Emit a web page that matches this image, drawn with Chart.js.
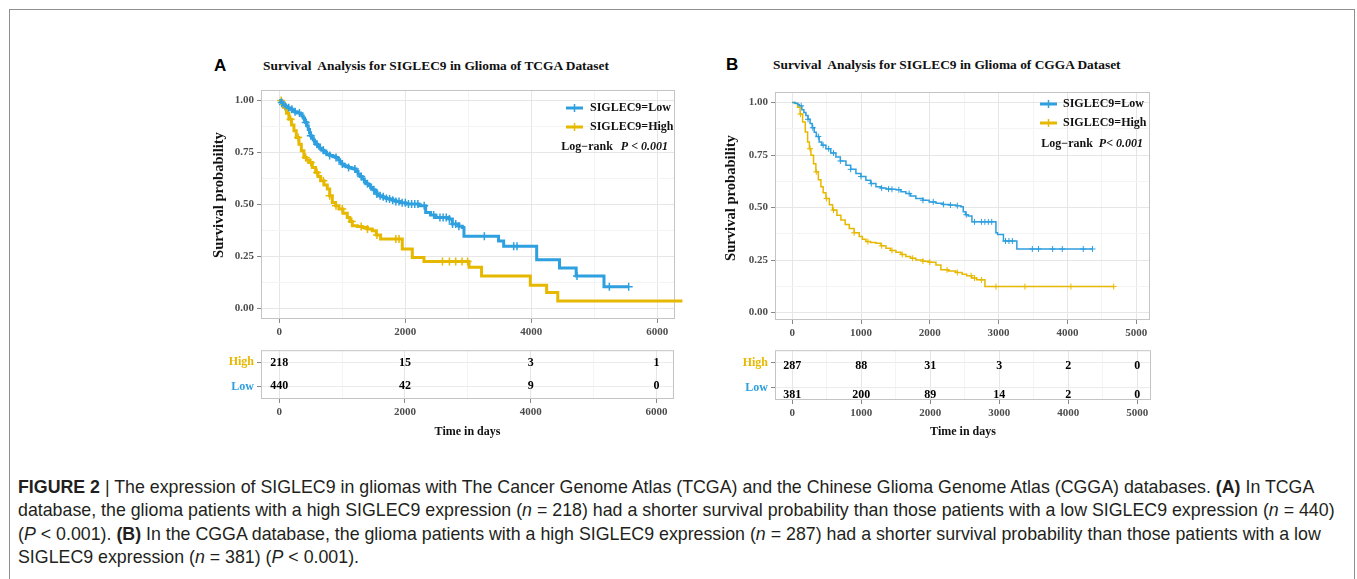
<!DOCTYPE html>
<html>
<head>
<meta charset="utf-8">
<script src="https://cdn.jsdelivr.net/npm/chart.js@4.4.1/dist/chart.umd.min.js"></script>
<style>
  html, body { margin: 0; padding: 0; background: #fff; }
  body { width: 1357px; height: 579px; position: relative; overflow: hidden; font-family: "Liberation Serif", serif; }
  .frame { position: absolute; left: 9px; top: 9px; width: 1344px; height: 640px; border: 1px solid #8f8f8f; }
  .box { position: absolute; }
  .letter { position: absolute; font-family: "Liberation Sans", Arial, sans-serif; font-weight: bold; font-size: 17px; line-height: 20px; }
  .title { position: absolute; font-weight: bold; font-size: 13.4px; line-height: 16px; white-space: pre; color: #111; }
  .ytitle { position: absolute; width: 200px; margin-left: -100px; text-align: center; font-weight: bold; font-size: 14.6px; line-height: 16px; color: #111; transform: rotate(-90deg); white-space: nowrap; }
  .caption { position: absolute; left: 18px; top: 476px; font-family: "Liberation Sans", Arial, sans-serif; font-size: 17.8px; line-height: 23.3px; color: #231f20; white-space: nowrap; }
</style>
</head>
<body>
<div class="frame"></div>

<div class="letter" style="left:214px; top:56px;">A</div>
<div class="title" style="left:263px; top:58px;">Survival  Analysis for SIGLEC9 in Glioma of TCGA Dataset</div>
<div class="letter" style="left:726px; top:55px;">B</div>
<div class="title" style="left:773px; top:57px;">Survival  Analysis for SIGLEC9 in Glioma of CGGA Dataset</div>

<div class="box" style="left:200px; top:78px;"><canvas id="kmA" width="490" height="265"></canvas></div>
<div class="box" style="left:200px; top:340px;"><canvas id="riskA" width="490" height="100"></canvas></div>
<div class="box" style="left:715px; top:80px;"><canvas id="kmB" width="450" height="265"></canvas></div>
<div class="box" style="left:715px; top:340px;"><canvas id="riskB" width="450" height="100"></canvas></div>

<div class="ytitle" style="left:218px; top:187px;">Survival probability</div>
<div class="ytitle" style="left:730px; top:190px;">Survival probability</div>

<div class="caption">
<b>FIGURE 2</b> | The expression of SIGLEC9 in gliomas with The Cancer Genome Atlas (TCGA) and the Chinese Glioma Genome Atlas (CGGA) databases. <b>(A)</b> In TCGA<br>
database, the glioma patients with a high SIGLEC9 expression (<i>n</i> = 218) had a shorter survival probability than those patients with a low SIGLEC9 expression (<i>n</i> = 440)<br>
(<i>P</i> &lt; 0.001). <b>(B)</b> In the CGGA database, the glioma patients with a high SIGLEC9 expression (<i>n</i> = 287) had a shorter survival probability than those patients with a low<br>
SIGLEC9 expression (<i>n</i> = 381) (<i>P</i> &lt; 0.001).
</div>

<script>
const BLUE = '#2E9FDF';
const GOLD = '#E7B800';
const seriesNames = ['SIGLEC9=Low', 'SIGLEC9=High'];
const riskRows = ['High', 'Low'];

// TCGA - step points of the KM curves (days, survival)
const tcgaLowTime = [0, 30, 60, 90, 120, 160, 206, 240, 280, 338, 360, 380, 400, 418, 440, 460, 480, 497, 520, 540, 560, 577, 610, 640, 675, 709, 750, 800, 850, 894, 930, 960, 990, 1026, 1060, 1100, 1140, 1185, 1220, 1250, 1285, 1317, 1350, 1380, 1415, 1450, 1485, 1520, 1550, 1582, 1620, 1660, 1700, 1741, 1800, 1850, 1920, 2005, 2217, 2323, 2400, 2481, 2693, 2746, 2850, 2905, 2931, 3480, 3561, 4085, 4447, 4712, 5153, 5545];
const tcgaLowSurv = [1, 0.99, 0.98, 0.972, 0.965, 0.958, 0.95, 0.945, 0.94, 0.934, 0.925, 0.915, 0.905, 0.894, 0.877, 0.86, 0.845, 0.83, 0.82, 0.81, 0.8, 0.79, 0.78, 0.77, 0.76, 0.75, 0.742, 0.735, 0.73, 0.726, 0.715, 0.705, 0.695, 0.686, 0.682, 0.678, 0.674, 0.67, 0.658, 0.645, 0.634, 0.622, 0.611, 0.6, 0.591, 0.582, 0.571, 0.56, 0.551, 0.542, 0.537, 0.532, 0.529, 0.526, 0.52, 0.515, 0.509, 0.502, 0.494, 0.462, 0.45, 0.438, 0.43, 0.406, 0.396, 0.39, 0.347, 0.325, 0.3, 0.235, 0.195, 0.157, 0.105, 0.105];
const tcgaHighTime = [0, 35, 74, 115, 153, 195, 233, 270, 312, 350, 391, 430, 471, 525, 577, 615, 656, 710, 762, 800, 841, 895, 947, 1010, 1079, 1120, 1159, 1240, 1317, 1400, 1476, 1540, 1608, 1952, 2111, 2296, 3011, 3210, 3984, 4243, 4420, 6397];
const tcgaHighSurv = [1, 0.985, 0.966, 0.938, 0.91, 0.882, 0.854, 0.822, 0.79, 0.758, 0.726, 0.714, 0.702, 0.678, 0.654, 0.634, 0.614, 0.594, 0.574, 0.542, 0.51, 0.494, 0.478, 0.458, 0.438, 0.418, 0.398, 0.394, 0.39, 0.382, 0.374, 0.354, 0.334, 0.286, 0.246, 0.226, 0.198, 0.157, 0.112, 0.077, 0.037, 0.037];
// censored times
const tcgaLowCens = [40, 60, 90, 150, 200, 250, 320, 420, 500, 600, 700, 800, 900, 1000, 1100, 1200, 1300, 1400, 1500, 1550, 1600, 1650, 1700, 1750, 1800, 1850, 1900, 1950, 2000, 2050, 2100, 2150, 2200, 2300, 2450, 2550, 2600, 2650, 2700, 2750, 2800, 2850, 3254, 3720, 3773, 4725, 5238, 5545];
const tcgaHighCens = [30, 100, 180, 300, 420, 500, 600, 700, 800, 900, 1000, 1150, 1300, 1400, 1550, 1850, 1900, 2590, 2700, 2800, 2900, 2989, 6397];

// CGGA
const cggaLowTime = [0, 40, 80, 102, 140, 170, 199, 230, 260, 290, 320, 350, 392, 430, 490, 560, 635, 700, 781, 850, 926, 1000, 1071, 1140, 1217, 1290, 1362, 1430, 1507, 1580, 1652, 1720, 1797, 1900, 1991, 2090, 2186, 2280, 2379, 2452, 2486, 2520, 2558, 2612, 2961, 2985, 3070, 3265, 4365];
const cggaLowSurv = [1, 0.997, 0.99, 0.984, 0.965, 0.952, 0.938, 0.92, 0.9, 0.88, 0.859, 0.838, 0.812, 0.797, 0.78, 0.76, 0.741, 0.722, 0.701, 0.682, 0.662, 0.648, 0.63, 0.614, 0.599, 0.593, 0.588, 0.587, 0.585, 0.575, 0.567, 0.555, 0.543, 0.535, 0.527, 0.52, 0.515, 0.512, 0.509, 0.504, 0.48, 0.466, 0.46, 0.432, 0.38, 0.372, 0.341, 0.303, 0.303];
const cggaHighTime = [0, 40, 78, 115, 151, 190, 224, 250, 272, 310, 344, 380, 417, 450, 490, 540, 587, 650, 708, 770, 829, 900, 974, 1020, 1071, 1140, 1217, 1290, 1362, 1430, 1507, 1580, 1652, 1720, 1797, 1900, 1991, 2089, 2161, 2270, 2379, 2470, 2535, 2610, 2680, 2801, 4672];
const cggaHighSurv = [1, 0.995, 0.978, 0.945, 0.907, 0.86, 0.812, 0.78, 0.749, 0.708, 0.67, 0.633, 0.599, 0.57, 0.543, 0.514, 0.488, 0.463, 0.441, 0.42, 0.401, 0.38, 0.362, 0.349, 0.338, 0.334, 0.33, 0.318, 0.306, 0.296, 0.287, 0.277, 0.267, 0.259, 0.251, 0.245, 0.24, 0.227, 0.204, 0.198, 0.191, 0.183, 0.176, 0.165, 0.156, 0.124, 0.124];
const cggaLowCens = [130, 230, 300, 380, 450, 530, 600, 700, 850, 1000, 1150, 1300, 1400, 1450, 1550, 1700, 1900, 2050, 2200, 2300, 2400, 2530, 2650, 2750, 2800, 2850, 2900, 3100, 3150, 3200, 3490, 3580, 3785, 3925, 4230, 4365];
const cggaHighCens = [120, 260, 350, 500, 600, 900, 1100, 1300, 1450, 1600, 1750, 1900, 2000, 2250, 2400, 2600, 2650, 2750, 2961, 3382, 4051, 4672];

// number at risk
const tcgaRiskTimes = [0, 2000, 4000, 6000];
const tcgaRiskHigh = [218, 15, 3, 1];
const tcgaRiskLow = [440, 42, 9, 0];
const cggaRiskTimes = [0, 1000, 2000, 3000, 4000, 5000];
const cggaRiskHigh = [287, 88, 31, 3, 2, 0];
const cggaRiskLow = [381, 200, 89, 14, 2, 0];

// ticks
const survTicks = [0, 0.25, 0.5, 0.75, 1];
const survMinor = [0.125, 0.375, 0.625, 0.875];
const tcgaTicks = [0, 2000, 4000, 6000];
const tcgaMinor = [1000, 3000, 5000];
const cggaTicks = [0, 1000, 2000, 3000, 4000, 5000];
const cggaMinor = [500, 1500, 2500, 3500, 4500];

const SERIF = "'Liberation Serif', 'Times New Roman', serif";
Chart.defaults.font.family = SERIF;

function survAt(times, surv, t) {
    let s = surv[0];
    for (let i = 0; i < times.length; i++) {
        if (times[i] <= t) s = surv[i];
    }
    return s;
}
const toPoints = (times, surv) => times.map((t, i) => ({ x: t, y: surv[i] }));
const toCens = (cens, times, surv) => cens.map(t => ({ x: t, y: survAt(times, surv, t) }));

// grey box round the panel, like ggplot
const panelFrame = {
    id: 'panelFrame',
    beforeDatasetsDraw(chart) {
        const { ctx, chartArea: a } = chart;
        ctx.save();
        ctx.strokeStyle = '#c4c4c4';
        ctx.lineWidth = 1;
        ctx.strokeRect(a.left + 0.5, a.top + 0.5, a.right - a.left - 1, a.bottom - a.top - 1);
        ctx.restore();
    }
};

const kmLegend = {
    id: 'kmLegend',
    afterDraw(chart, args, o) {
        if (!o || !o.items) return;
        const { ctx, chartArea: a } = chart;
        ctx.save();
        ctx.textBaseline = 'middle';
        ctx.font = 'bold 12px ' + SERIF;
        o.items.forEach((it, i) => {
            const y = a.top + o.rowY[i];
            const x0 = a.right + o.lineX[0];
            const x1 = a.right + o.lineX[1];
            ctx.strokeStyle = it.color;
            ctx.lineWidth = o.lineWidth;
            ctx.beginPath();
            ctx.moveTo(x0, y);
            ctx.lineTo(x1, y);
            ctx.stroke();
            const xm = (x0 + x1) / 2;
            ctx.lineWidth = o.markWidth;
            ctx.beginPath();
            ctx.moveTo(xm, y - o.markR);
            ctx.lineTo(xm, y + o.markR);
            ctx.stroke();
            ctx.fillStyle = '#111';
            ctx.textAlign = 'left';
            ctx.fillText(it.text, a.right + o.textX, y);
        });
        // log-rank line, right aligned
        const y = a.top + o.pY;
        const xr = a.right + o.pRight;
        ctx.textAlign = 'right';
        ctx.font = 'italic bold 12px ' + SERIF;
        ctx.fillText(o.pText, xr, y);
        const w = ctx.measureText(o.pText).width;
        ctx.font = 'bold 12px ' + SERIF;
        ctx.fillText(o.rankText, xr - w - o.gap, y);
        ctx.restore();
    }
};

function axisX(xmin, xmax, majors, minors, extra) {
    return Object.assign({
        type: 'linear',
        min: xmin,
        max: xmax,
        afterBuildTicks: s => { s.ticks = majors.concat(minors).sort((a, b) => a - b).map(v => ({ value: v })); },
        grid: {
            color: c => majors.includes(c.tick.value) ? '#e6e6e6' : '#f4f4f4',
            tickColor: c => majors.includes(c.tick.value) ? '#888' : 'rgba(0,0,0,0)',
            tickLength: 4,
            lineWidth: 1
        },
        border: { display: false },
        ticks: {
            autoSkip: false,
            maxRotation: 0,
            padding: 3,
            color: '#4d4d4d',
            font: { size: 11, weight: 'bold' },
            callback: v => majors.includes(v) ? String(v) : ''
        }
    }, extra || {});
}

function makeKM(id, cfg) {
    const ctx = document.getElementById(id).getContext('2d');
    const ds = (data, color, extra) => Object.assign({
        data: data,
        borderColor: color,
        backgroundColor: color,
        fill: false
    }, extra);
    return new Chart(ctx, {
        type: 'line',
        data: {
            datasets: [
                ds(toPoints(cfg.low.t, cfg.low.s), BLUE, { stepped: 'before', borderWidth: cfg.lw, pointRadius: 0, clip: false }),
                ds(toPoints(cfg.high.t, cfg.high.s), GOLD, { stepped: 'before', borderWidth: cfg.lw, pointRadius: 0, clip: false }),
                ds(toCens(cfg.low.c, cfg.low.t, cfg.low.s), BLUE, { showLine: false, pointStyle: 'cross', pointRadius: cfg.mr, borderWidth: cfg.mw, clip: false }),
                ds(toCens(cfg.high.c, cfg.high.t, cfg.high.s), GOLD, { showLine: false, pointStyle: 'cross', pointRadius: cfg.mr, borderWidth: cfg.mw, clip: false })
            ]
        },
        options: {
            responsive: false,
            animation: false,
            layout: { padding: cfg.pad },
            plugins: {
                legend: { display: false },
                tooltip: { enabled: false },
                kmLegend: cfg.legend
            },
            scales: {
                x: axisX(cfg.xmin, cfg.xmax, cfg.xt, cfg.xm, { afterFit: s => { s.height = cfg.xh; } }),
                y: {
                    type: 'linear',
                    min: cfg.ymin,
                    max: 1.05,
                    afterBuildTicks: s => { s.ticks = survTicks.concat(survMinor).sort((a, b) => a - b).map(v => ({ value: v })); },
                    afterFit: s => { s.width = cfg.yw; },
                    grid: {
                        color: c => survTicks.includes(c.tick.value) ? '#e6e6e6' : '#f4f4f4',
                        tickColor: c => survTicks.includes(c.tick.value) ? '#888' : 'rgba(0,0,0,0)',
                        tickLength: 4
                    },
                    border: { display: false },
                    ticks: {
                        autoSkip: false,
                        padding: 3,
                        color: '#4d4d4d',
                        font: { size: 11, weight: 'bold' },
                        callback: v => survTicks.includes(v) ? v.toFixed(2) : ''
                    }
                }
            }
        },
        plugins: [panelFrame, kmLegend]
    });
}

const riskText = {
    id: 'riskText',
    afterDatasetsDraw(chart, args, o) {
        const { ctx } = chart;
        ctx.save();
        ctx.font = 'bold 12px ' + SERIF;
        ctx.fillStyle = '#000';
        ctx.textAlign = 'center';
        ctx.textBaseline = 'middle';
        chart.data.datasets.forEach((d, di) => {
            chart.getDatasetMeta(di).data.forEach((el, i) => {
                ctx.fillText(String(d.data[i].n), el.x, el.y + o.shift[di]);
            });
        });
        ctx.restore();
    }
};

function makeRisk(id, cfg) {
    const ctx = document.getElementById(id).getContext('2d');
    const rows = [cfg.high, cfg.low].map((arr, r) => ({
        data: cfg.times.map((t, i) => ({ x: t, y: riskRows[r], n: arr[i] })),
        pointRadius: 0,
        showLine: false
    }));
    return new Chart(ctx, {
        type: 'scatter',
        data: { datasets: rows },
        options: {
            responsive: false,
            animation: false,
            layout: { padding: cfg.pad },
            plugins: {
                legend: { display: false },
                tooltip: { enabled: false },
                riskText: { shift: cfg.shift }
            },
            scales: {
                x: axisX(cfg.xmin, cfg.xmax, cfg.xt, cfg.xm, {
                    afterFit: s => { s.height = cfg.xh; },
                    title: {
                        display: true,
                        text: 'Time in days',
                        color: '#111',
                        padding: { top: 0, bottom: 1 },
                        font: { size: 12, weight: 'bold' }
                    }
                }),
                y: {
                    type: 'category',
                    labels: riskRows,
                    offset: true,
                    afterFit: s => { s.width = cfg.yw; },
                    grid: { offset: false, color: '#ececec', tickColor: '#888', tickLength: 4 },
                    border: { display: false },
                    ticks: {
                        padding: 3,
                        color: c => c.index === 0 ? GOLD : BLUE,
                        font: { size: 12, weight: 'bold' }
                    }
                }
            }
        },
        plugins: [panelFrame, riskText]
    });
}

makeKM('kmA', {
    low: { t: tcgaLowTime, s: tcgaLowSurv, c: tcgaLowCens },
    high: { t: tcgaHighTime, s: tcgaHighSurv, c: tcgaHighCens },
    xmin: -290, xmax: 6280, xt: tcgaTicks, xm: tcgaMinor,
    ymin: -0.05, lw: 3, mr: 4, mw: 1.5,
    pad: { top: 12, left: 0, right: 15, bottom: 0 }, yw: 61, xh: 24,
    legend: {
        items: [{ text: seriesNames[0], color: BLUE }, { text: seriesNames[1], color: GOLD }],
        rowY: [18, 37], lineX: [-109, -92], textX: -85, lineWidth: 3, markWidth: 1.5, markR: 4,
        pY: 57, pRight: -7, pText: 'P < 0.001', rankText: 'Log\u2212rank', gap: 8
    }
});

makeRisk('riskA', {
    times: tcgaRiskTimes, high: tcgaRiskHigh, low: tcgaRiskLow,
    xmin: -290, xmax: 6280, xt: tcgaTicks, xm: tcgaMinor,
    pad: { top: 7, left: 0, right: 16, bottom: 0 }, yw: 61, xh: 41, shift: [1, -1]
});

makeKM('kmB', {
    low: { t: cggaLowTime, s: cggaLowSurv, c: cggaLowCens },
    high: { t: cggaHighTime, s: cggaHighSurv, c: cggaHighCens },
    xmin: -250, xmax: 5200, xt: cggaTicks, xm: cggaMinor,
    ymin: -0.035, lw: 1.5, mr: 3, mw: 1,
    pad: { top: 12, left: 0, right: 15, bottom: 0 }, yw: 60, xh: 25,
    legend: {
        items: [{ text: seriesNames[0], color: BLUE }, { text: seriesNames[1], color: GOLD }],
        rowY: [12, 31], lineX: [-110, -93], textX: -87, lineWidth: 3, markWidth: 1.5, markR: 4,
        pY: 52, pRight: -7, pText: 'P< 0.001', rankText: 'Log\u2212rank', gap: 6
    }
});

makeRisk('riskB', {
    times: cggaRiskTimes, high: cggaRiskHigh, low: cggaRiskLow,
    xmin: -250, xmax: 5200, xt: cggaTicks, xm: cggaMinor,
    pad: { top: 6, left: 0, right: 14, bottom: 0 }, yw: 60, xh: 40, shift: [3, 7]
});
</script>
</body>
</html>
